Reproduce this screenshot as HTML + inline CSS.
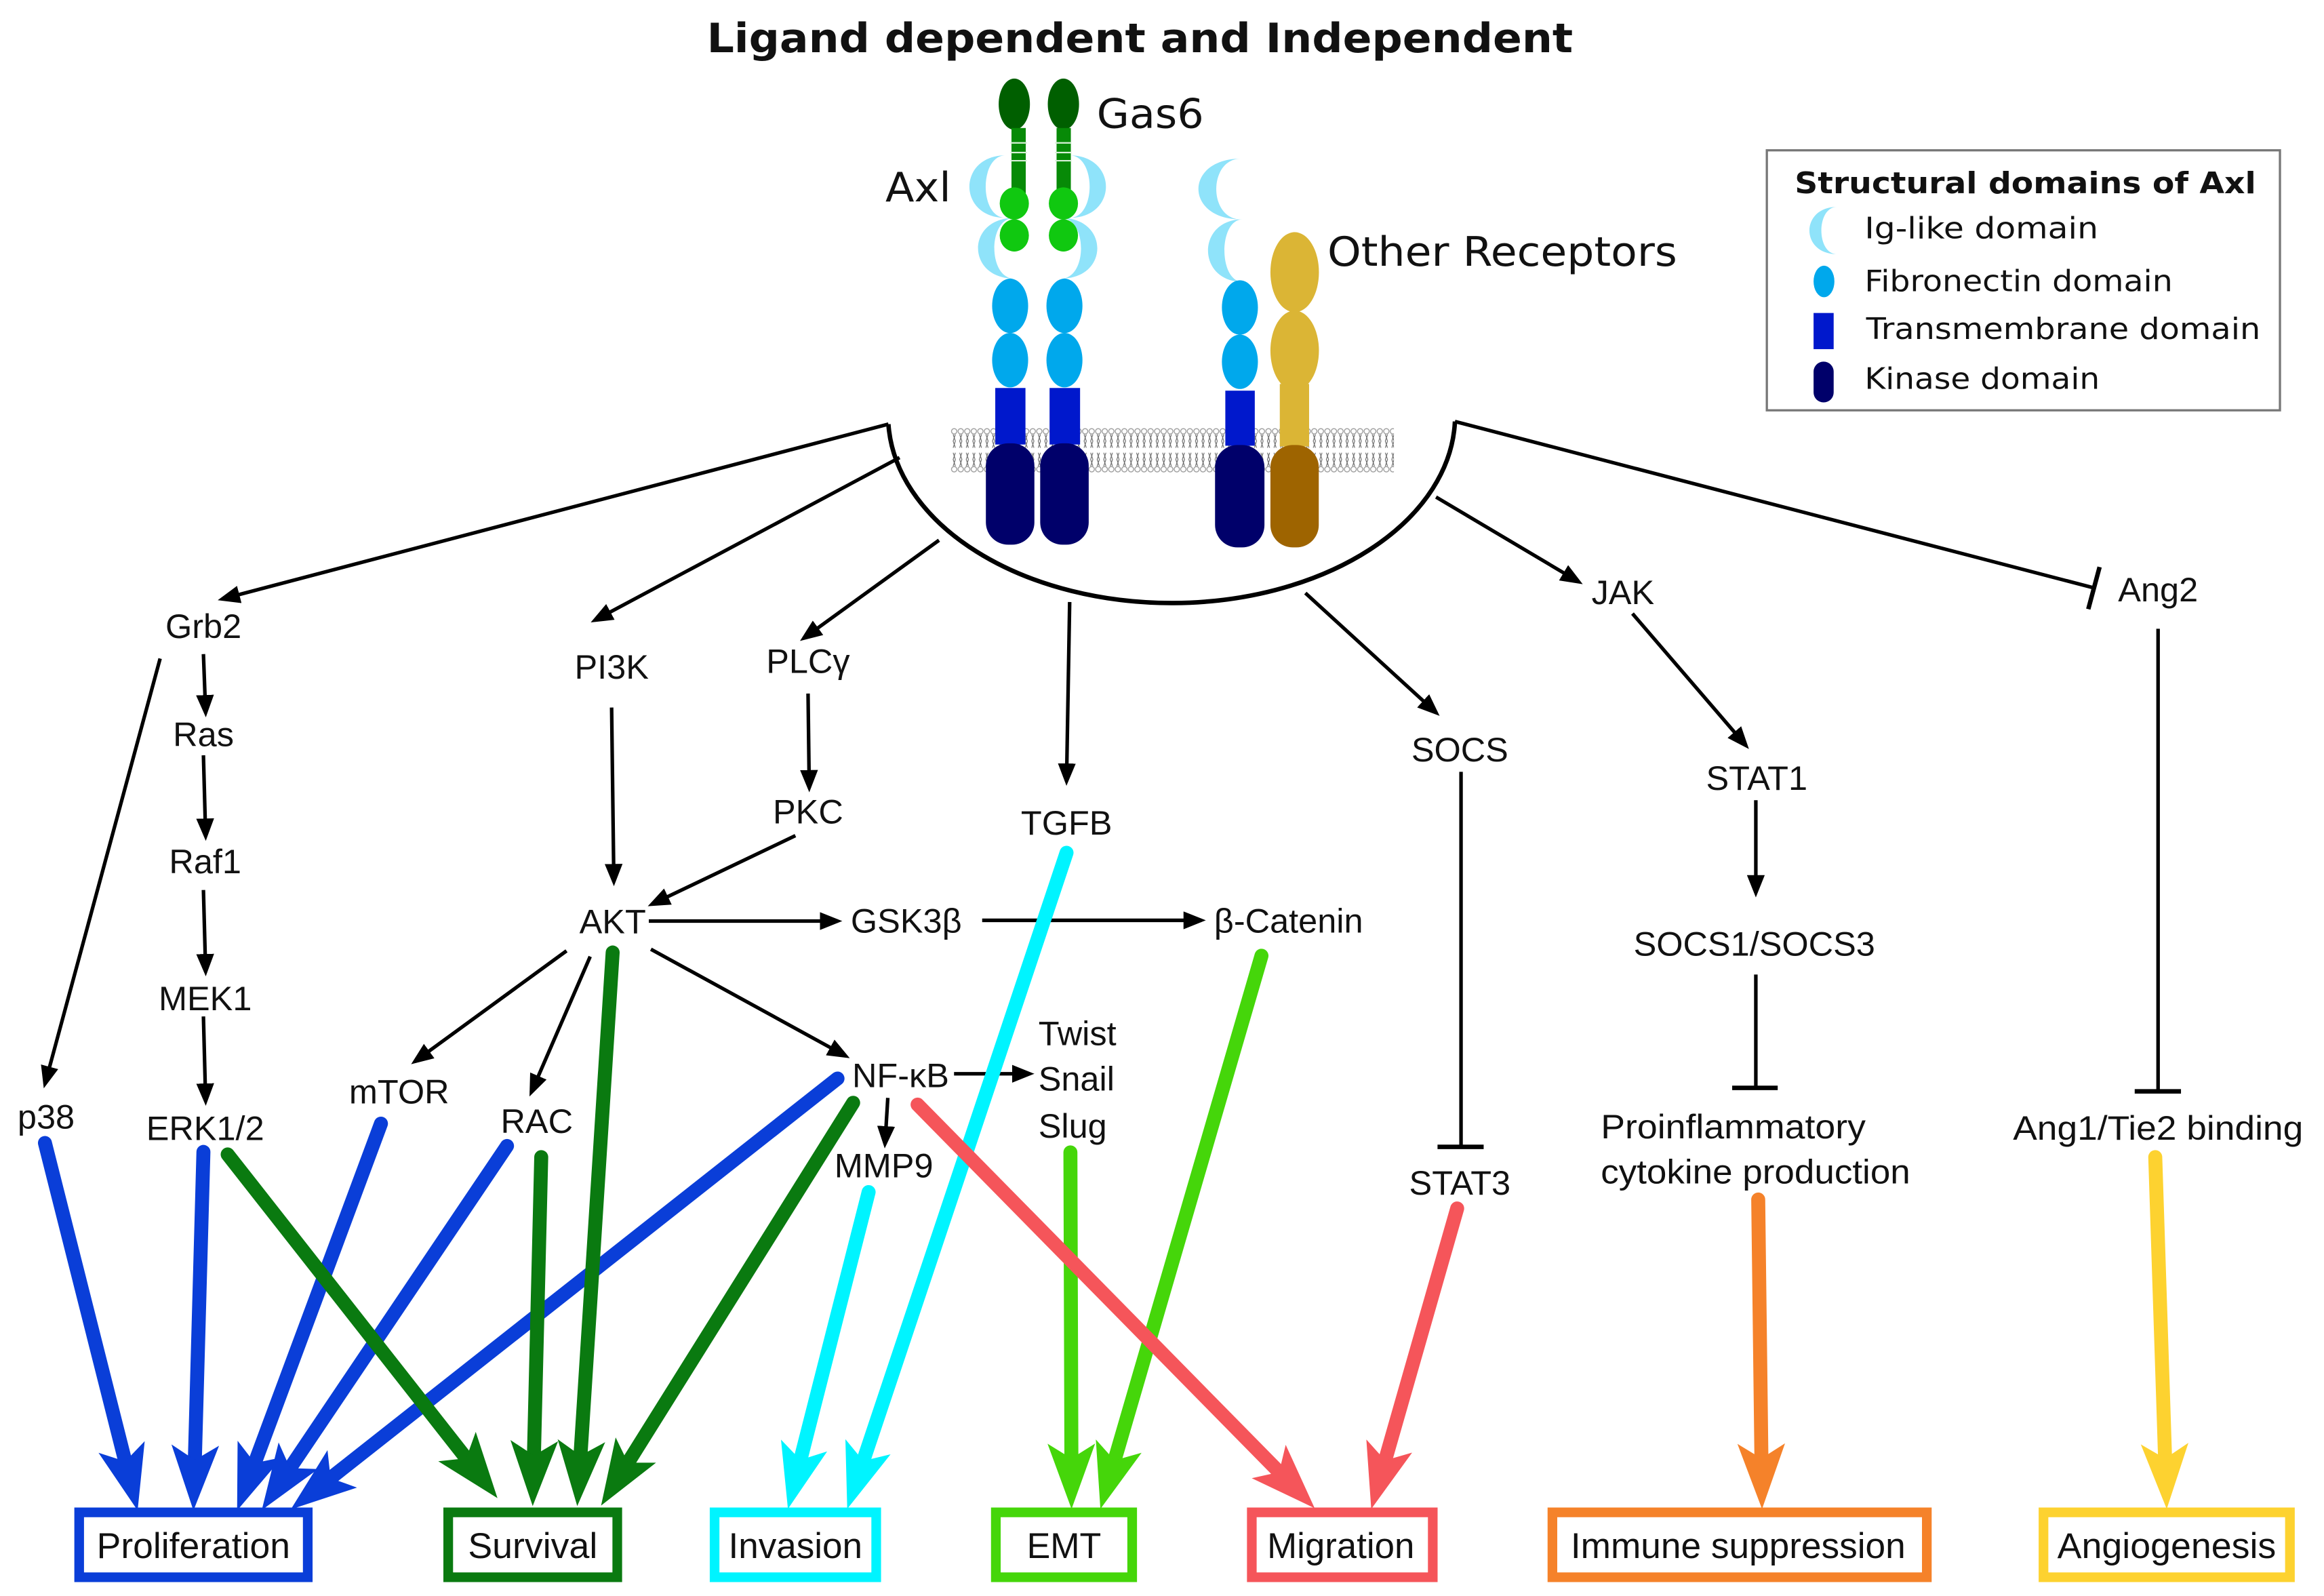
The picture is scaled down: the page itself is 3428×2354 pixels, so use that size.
<!DOCTYPE html>
<html><head><meta charset="utf-8">
<style>
html,body{margin:0;padding:0;background:#fff;}
svg{display:block;}
.t{font-family:"Liberation Sans",Arial,sans-serif;font-size:23px;fill:#111;}
.b{font-family:"Liberation Sans",Arial,sans-serif;font-size:24px;fill:#111;}
.d{font-family:"DejaVu Sans",sans-serif;fill:#111;}
.thin{stroke:#000;stroke-width:2.4;fill:none;}
.thk{stroke-width:9.4;fill:none;stroke-linecap:round;}
</style></head>
<body>
<svg width="3428" height="2354" viewBox="0 0 1561.7 1072.4" preserveAspectRatio="none" xmlns="http://www.w3.org/2000/svg">
<defs>
<marker id="ah" markerUnits="userSpaceOnUse" markerWidth="16" markerHeight="12" refX="12" refY="6" orient="auto"><path d="M0,0 L15,6 L0,12 z" fill="#000"/></marker>
<marker id="mb" markerUnits="userSpaceOnUse" markerWidth="46" markerHeight="34" refX="22" refY="17" orient="auto"><path d="M0,1 L44,17 L0,33 L10,17 z" fill="#0a3ed8"/></marker>
<marker id="mg" markerUnits="userSpaceOnUse" markerWidth="46" markerHeight="34" refX="22" refY="17" orient="auto"><path d="M0,1 L44,17 L0,33 L10,17 z" fill="#0a7a10"/></marker>
<marker id="mc" markerUnits="userSpaceOnUse" markerWidth="46" markerHeight="34" refX="22" refY="17" orient="auto"><path d="M0,1 L44,17 L0,33 L10,17 z" fill="#00f4ff"/></marker>
<marker id="ml" markerUnits="userSpaceOnUse" markerWidth="46" markerHeight="34" refX="22" refY="17" orient="auto"><path d="M0,1 L44,17 L0,33 L10,17 z" fill="#45d60a"/></marker>
<marker id="mr" markerUnits="userSpaceOnUse" markerWidth="46" markerHeight="34" refX="22" refY="17" orient="auto"><path d="M0,1 L44,17 L0,33 L10,17 z" fill="#f5555a"/></marker>
<marker id="mo" markerUnits="userSpaceOnUse" markerWidth="46" markerHeight="34" refX="22" refY="17" orient="auto"><path d="M0,1 L44,17 L0,33 L10,17 z" fill="#f5822a"/></marker>
<marker id="my" markerUnits="userSpaceOnUse" markerWidth="46" markerHeight="34" refX="22" refY="17" orient="auto"><path d="M0,1 L44,17 L0,33 L10,17 z" fill="#fdd230"/></marker>
<pattern id="mem" patternUnits="userSpaceOnUse" x="639" y="287.4" width="4.4" height="30.3">
<circle cx="2.2" cy="2.4" r="1.8" fill="#fff" stroke="#999" stroke-width="0.6"/>
<circle cx="2.2" cy="27.9" r="1.8" fill="#fff" stroke="#999" stroke-width="0.6"/>
<path d="M1.5,4.5 L3,9 L1.5,13.5 M3,4.5 L1.5,9 L3,13.5 M1.5,16.8 L3,21.3 L1.5,25.8 M3,16.8 L1.5,21.3 L3,25.8" stroke="#666" stroke-width="0.5" fill="none"/>
</pattern>
</defs>

<text x="766" y="35" text-anchor="middle" class="d" font-size="27" font-weight="bold" textLength="582" lengthAdjust="spacingAndGlyphs">Ligand dependent and Independent</text>

<path d="M597,285 A190.5,126 0 0 0 977.7,283.2" stroke="#000" stroke-width="3" fill="none"/>

<rect x="639" y="287.4" width="297.7" height="30.3" fill="url(#mem)"/>

<g fill="#005f00"><ellipse cx="681.6" cy="70" rx="10.5" ry="17.2"/><ellipse cx="714.6" cy="70" rx="10.5" ry="17.2"/></g>
<g fill="#078a07"><rect x="679.7" y="86" width="9.6" height="44"/><rect x="710" y="86" width="9.6" height="44"/></g>
<g stroke="#d8f0d8" stroke-width="1"><line x1="679" y1="96" x2="690" y2="96"/><line x1="679" y1="102.5" x2="690" y2="102.5"/><line x1="679" y1="108" x2="690" y2="108"/><line x1="709" y1="96" x2="720" y2="96"/><line x1="709" y1="102.5" x2="720" y2="102.5"/><line x1="709" y1="108" x2="720" y2="108"/></g>

<g fill="#8fe3fa">
<path d="M675.8,104.4 C643.3,104.4 643.3,146.4 675.8,146.4 C657.9,146.4 657.9,104.4 675.8,104.4 Z"/>
<path d="M681.6,146.4 C649.1,146.4 649.1,187.2 681.6,187.2 C663.7,187.2 663.7,146.4 681.6,146.4 Z"/>
<path d="M718.8,104.4 C751.3,104.4 751.3,146.4 718.8,146.4 C736.7,146.4 736.7,104.4 718.8,104.4 Z"/>
<path d="M713,146.4 C745.5,146.4 745.5,187.2 713,187.2 C730.9,187.2 730.9,146.4 713,146.4 Z"/>
<path d="M833.9,106.6 C795.8,106.6 795.8,147.4 833.9,147.4 C811.8,147.4 811.8,106.6 833.9,106.6 Z"/>
<path d="M835.1,147.4 C804,147.4 804,189.4 835.1,189.4 C818.7,189.4 818.7,147.4 835.1,147.4 Z"/>
</g>
<g fill="#10c810"><ellipse cx="681.6" cy="136.7" rx="9.8" ry="10.8"/><ellipse cx="681.6" cy="158.2" rx="9.8" ry="10.8"/><ellipse cx="714.6" cy="136.7" rx="9.8" ry="10.8"/><ellipse cx="714.6" cy="158.2" rx="9.8" ry="10.8"/></g>

<g fill="#00a8ec">
<ellipse cx="678.8" cy="205.5" rx="12.1" ry="18.3"/><ellipse cx="678.8" cy="242" rx="12.1" ry="18.3"/>
<ellipse cx="715.3" cy="205.5" rx="12.1" ry="18.3"/><ellipse cx="715.3" cy="242" rx="12.1" ry="18.3"/>
<ellipse cx="833.2" cy="206.6" rx="12.1" ry="18.3"/><ellipse cx="833.2" cy="243.1" rx="12.1" ry="18.3"/>
</g>
<g fill="#dbb535"><ellipse cx="870" cy="182.9" rx="16.3" ry="26.9"/><ellipse cx="870" cy="235.6" rx="16.3" ry="26.9"/><rect x="860" y="258" width="19.7" height="42"/></g>
<g fill="#0018cc"><rect x="668.8" y="260.7" width="20.3" height="38"/><rect x="705.3" y="260.7" width="20.5" height="38"/><rect x="823.4" y="262.5" width="19.8" height="37"/></g>
<g fill="#00006a"><rect x="662.5" y="297.9" width="32.6" height="68.1" rx="15"/><rect x="699" y="297.9" width="32.6" height="68.1" rx="15"/><rect x="816.5" y="299" width="33.2" height="68.8" rx="15"/></g>
<rect x="853.7" y="299" width="32.5" height="68.8" rx="15" fill="#9e6400"/>

<text x="737" y="85.8" class="d" font-size="27" textLength="72" lengthAdjust="spacingAndGlyphs">Gas6</text>
<text x="595" y="135.2" class="d" font-size="27" textLength="44" lengthAdjust="spacingAndGlyphs">Axl</text>
<text x="892" y="178.5" class="d" font-size="27" textLength="235" lengthAdjust="spacingAndGlyphs">Other Receptors</text>

<rect x="1187.3" y="101" width="344.8" height="174.7" fill="#fff" stroke="#777" stroke-width="1.5"/>
<text x="1206" y="129.8" class="d" font-size="20" font-weight="bold" textLength="310" lengthAdjust="spacingAndGlyphs">Structural domains of Axl</text>
<path d="M1234.5,139 C1209.7,139 1209.7,170.8 1234.5,170.8 C1220.4,170.8 1220.4,139 1234.5,139 Z" fill="#8fe3fa"/>
<text x="1253" y="160.2" class="d" font-size="20" textLength="157" lengthAdjust="spacingAndGlyphs">Ig-like domain</text>
<ellipse cx="1225.7" cy="189.1" rx="7" ry="10.6" fill="#00a8ec"/>
<text x="1253" y="195.6" class="d" font-size="20" textLength="207" lengthAdjust="spacingAndGlyphs">Fibronectin domain</text>
<rect x="1218.7" y="210.3" width="13.5" height="24.3" fill="#0018cc"/>
<text x="1254" y="227.8" class="d" font-size="20" textLength="265" lengthAdjust="spacingAndGlyphs">Transmembrane domain</text>
<rect x="1218.7" y="243" width="13.5" height="27.4" rx="6.7" fill="#00006a"/>
<text x="1253" y="261.2" class="d" font-size="20" textLength="158" lengthAdjust="spacingAndGlyphs">Kinase domain</text>

<g class="thin" marker-end="url(#ah)">
<line x1="597" y1="285" x2="149.2" y2="402.5"/>
<line x1="604.5" y1="307.5" x2="399.6" y2="416.8"/>
<line x1="631" y1="363" x2="540" y2="428.9"/>
<line x1="718.8" y1="404.5" x2="716.7" y2="525"/>
<line x1="877.2" y1="398.5" x2="965.2" y2="479"/>
<line x1="965" y1="334" x2="1061" y2="391"/>
<line x1="136.7" y1="439.5" x2="138.2" y2="479"/>
<line x1="136.7" y1="507.5" x2="138.2" y2="562"/>
<line x1="136.7" y1="598" x2="138.2" y2="653"/>
<line x1="136.7" y1="683" x2="138.2" y2="740"/>
<line x1="107.6" y1="442.5" x2="30.2" y2="728.4"/>
<line x1="411" y1="475.4" x2="412.5" y2="592.5"/>
<line x1="543" y1="466" x2="543.8" y2="529.4"/>
<line x1="534.5" y1="561.5" x2="438" y2="607.6"/>
<line x1="436" y1="618.9" x2="563" y2="618.9"/>
<line x1="660" y1="618.4" x2="807.3" y2="618.4"/>
<line x1="380.7" y1="638.9" x2="278.7" y2="713.3"/>
<line x1="396.6" y1="642.7" x2="357" y2="734"/>
<line x1="437.4" y1="637.8" x2="568.4" y2="709.6"/>
<line x1="641.1" y1="721.5" x2="692.1" y2="721.5"/>
<line x1="596.6" y1="737.7" x2="594.7" y2="768.7"/>
<line x1="1097" y1="412.3" x2="1173.3" y2="501"/>
<line x1="1179.9" y1="537.7" x2="1179.9" y2="600"/>
</g>
<g class="thin">
<line x1="977.7" y1="283.2" x2="1407" y2="395"/>
<line x1="1410.9" y1="381" x2="1403.3" y2="409.3" stroke-width="3"/>
<line x1="981.8" y1="518.6" x2="981.8" y2="770.6"/>
<line x1="966" y1="770.6" x2="997" y2="770.6" stroke-width="3"/>
<line x1="1179.9" y1="654.8" x2="1179.9" y2="731"/>
<line x1="1164" y1="731" x2="1194.6" y2="731" stroke-width="3"/>
<line x1="1450.2" y1="422.5" x2="1450.2" y2="733.3"/>
<line x1="1434.5" y1="733.3" x2="1465.6" y2="733.3" stroke-width="3"/>
</g>

<g class="thk" stroke="#0a3ed8" marker-end="url(#mb)">
<line x1="30.2" y1="768" x2="87.1" y2="993.6"/>
<line x1="136.7" y1="774" x2="130.6" y2="993"/>
<line x1="256" y1="755" x2="167" y2="994.3"/>
<line x1="340.7" y1="770" x2="188.2" y2="996.4"/>
<line x1="562.8" y1="724.7" x2="212.7" y2="1000.6"/>
</g>
<g class="thk" stroke="#0a7a10" marker-end="url(#mg)">
<line x1="153" y1="775.7" x2="320.7" y2="989.3"/>
<line x1="363.7" y1="777.5" x2="358.5" y2="990"/>
<line x1="411.7" y1="640" x2="389.3" y2="990"/>
<line x1="573.3" y1="741" x2="415.6" y2="993"/>
</g>
<g class="thk" stroke="#00f4ff" marker-end="url(#mc)">
<line x1="583.7" y1="801" x2="534.9" y2="992.6"/>
<line x1="716.7" y1="573" x2="576.3" y2="993"/>
</g>
<g class="thk" stroke="#45d60a" marker-end="url(#ml)">
<line x1="719.3" y1="774.3" x2="720" y2="992"/>
<line x1="847.7" y1="642.2" x2="745.6" y2="992.8"/>
</g>
<g class="thk" stroke="#f5555a" marker-end="url(#mr)">
<line x1="616.6" y1="742.2" x2="868" y2="997.7"/>
<line x1="979.2" y1="812" x2="927.5" y2="992.8"/>
</g>
<line class="thk" stroke="#f5822a" marker-end="url(#mo)" x1="1181.5" y1="806" x2="1183.8" y2="992"/>
<line class="thk" stroke="#fdd230" marker-end="url(#my)" x1="1448.3" y1="777.5" x2="1455.3" y2="992"/>

<g class="t" text-anchor="middle">
<text x="136.7" y="428.8">Grb2</text>
<text x="136.7" y="501.3">Ras</text>
<text x="137.9" y="586.7">Raf1</text>
<text x="137.9" y="678.8">MEK1</text>
<text x="137.9" y="766.1">ERK1/2</text>
<text x="31" y="758.2">p38</text>
<text x="411" y="456">PI3K</text>
<text x="543" y="452.2">PLCγ</text>
<text x="543" y="553.4">PKC</text>
<text x="411.7" y="627.1">AKT</text>
<text x="609" y="626.6">GSK3β</text>
<text x="865.9" y="626.6">β-Catenin</text>
<text x="716.7" y="560.8">TGFB</text>
<text x="268.2" y="741.5">mTOR</text>
<text x="360.7" y="761.2">RAC</text>
<text x="605.2" y="730.4">NF-κB</text>
<text x="593.9" y="791.2">MMP9</text>
<text x="981" y="511.7">SOCS</text>
<text x="981" y="802.6">STAT3</text>
<text x="1090.6" y="406">JAK</text>
<text x="1180.5" y="530.8">STAT1</text>
<text x="1178.9" y="642.2">SOCS1/SOCS3</text>
<text x="1450.2" y="404.2">Ang2</text>
<text x="1450.2" y="765.7" textLength="195" lengthAdjust="spacingAndGlyphs">Ang1/Tie2 binding</text>
</g>
<g class="t">
<text x="697.8" y="702.2">Twist</text>
<text x="697.8" y="732.7">Snail</text>
<text x="697.8" y="764.4">Slug</text>
<text x="1075.7" y="765" textLength="178" lengthAdjust="spacingAndGlyphs">Proinflammatory</text>
<text x="1075.7" y="795.2" textLength="208" lengthAdjust="spacingAndGlyphs">cytokine production</text>
</g>

<g fill="none" stroke-width="6.5">
<rect x="53.2" y="1016.2" width="153.6" height="43.6" stroke="#0a3ed8"/>
<rect x="301.2" y="1016.2" width="113.6" height="43.6" stroke="#0a7a10"/>
<rect x="480.2" y="1016.2" width="108.6" height="43.6" stroke="#00f4ff"/>
<rect x="669.2" y="1016.2" width="91.6" height="43.6" stroke="#45d60a"/>
<rect x="841.2" y="1016.2" width="121.6" height="43.6" stroke="#f5555a"/>
<rect x="1043.2" y="1016.2" width="251.6" height="43.6" stroke="#f5822a"/>
<rect x="1373.2" y="1016.2" width="165.6" height="43.6" stroke="#fdd230"/>
</g>
<g class="b" text-anchor="middle">
<text x="130" y="1047" textLength="130" lengthAdjust="spacingAndGlyphs">Proliferation</text>
<text x="358" y="1047" textLength="87" lengthAdjust="spacingAndGlyphs">Survival</text>
<text x="534.5" y="1047" textLength="90" lengthAdjust="spacingAndGlyphs">Invasion</text>
<text x="715" y="1047" textLength="50" lengthAdjust="spacingAndGlyphs">EMT</text>
<text x="901" y="1047" textLength="99" lengthAdjust="spacingAndGlyphs">Migration</text>
<text x="1168" y="1047" textLength="225" lengthAdjust="spacingAndGlyphs">Immune suppression</text>
<text x="1456" y="1047" textLength="147" lengthAdjust="spacingAndGlyphs">Angiogenesis</text>
</g>
</svg>
</body></html>
